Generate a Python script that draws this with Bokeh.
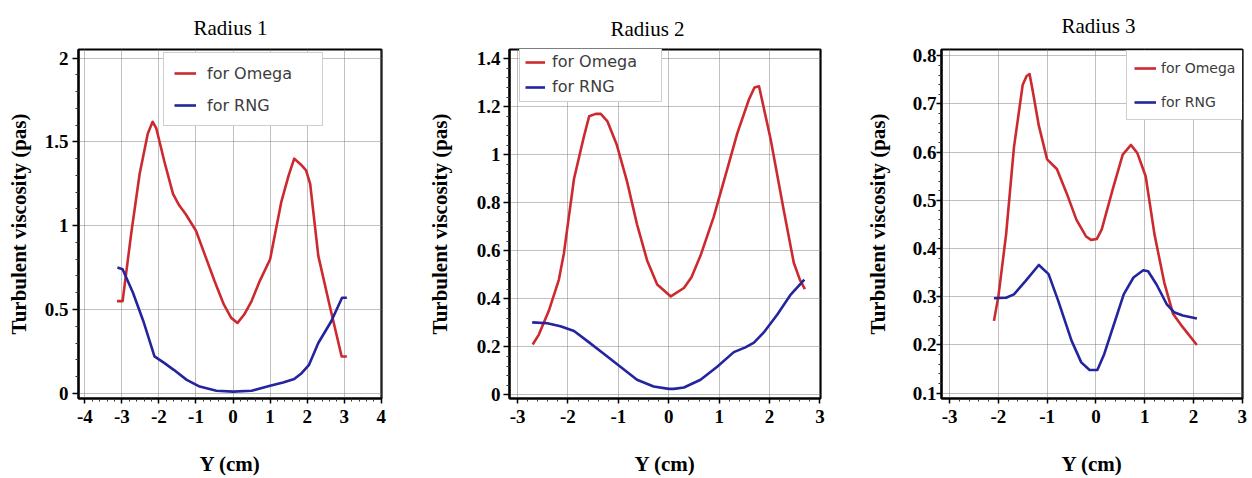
import numpy as np
from bokeh.plotting import figure
from bokeh.layouts import row
from bokeh.models import FixedTicker, Range1d, Legend, LegendItem
from bokeh.embed import file_html
from bokeh.resources import INLINE

# ---------------- data ----------------
titles = ["Radius 1", "Radius 2", "Radius 3"]
x_axis_label = "Y (cm)"
y_axis_label = "Turbulent viscosity (pas)"
series_names = ["for Omega", "for RNG"]

# Radius 1
r1_omega_x = [-3.13, -2.98, -2.75, -2.52, -2.3, -2.17, -2.07, -1.85, -1.62, -1.45, -1.28, -1.0, -0.75, -0.5, -0.25,
              -0.05, 0.12, 0.3, 0.5, 0.7, 1.0, 1.3, 1.5, 1.65, 1.85, 1.97, 2.08, 2.3, 2.6, 2.93, 3.07]
r1_omega_y = [0.55, 0.55, 0.95, 1.31, 1.55, 1.62, 1.58, 1.38, 1.19, 1.12, 1.07, 0.97, 0.82, 0.67, 0.53,
              0.45, 0.42, 0.47, 0.55, 0.66, 0.80, 1.14, 1.30, 1.40, 1.36, 1.33, 1.25, 0.82, 0.53, 0.22, 0.22]
r1_rng_x = [-3.12, -2.98, -2.7, -2.42, -2.12, -1.85, -1.6, -1.25, -0.9, -0.45, 0.0, 0.5, 1.0, 1.35, 1.65,
            1.85, 2.05, 2.3, 2.65, 2.94, 3.07]
r1_rng_y = [0.75, 0.74, 0.60, 0.43, 0.22, 0.18, 0.14, 0.08, 0.04, 0.015, 0.01, 0.015, 0.045, 0.065, 0.085,
            0.12, 0.17, 0.30, 0.43, 0.57, 0.57]
r1_x_ticks = [-4, -3, -2, -1, 0, 1, 2, 3, 4]
r1_x_labels = ["-4", "-3", "-2", "-1", "0", "1", "2", "3", "4"]
r1_y_ticks = [0, 0.5, 1, 1.5, 2]
r1_y_labels = ["0", "0.5", "1", "1.5", "2"]

# Radius 2
r2_omega_x = [-2.70, -2.58, -2.38, -2.18, -2.08, -1.88, -1.69, -1.58, -1.45, -1.35, -1.22, -1.03, -0.83, -0.63,
              -0.43, -0.23, 0.04, 0.3, 0.45, 0.63, 0.89, 1.16, 1.36, 1.59, 1.7, 1.79, 2.02, 2.28, 2.48, 2.6, 2.70]
r2_omega_y = [0.21, 0.25, 0.35, 0.48, 0.59, 0.90, 1.07, 1.16, 1.17, 1.17, 1.14, 1.04, 0.89, 0.71,
              0.56, 0.46, 0.41, 0.445, 0.49, 0.58, 0.74, 0.94, 1.09, 1.23, 1.28, 1.285, 1.065, 0.77, 0.55, 0.48, 0.44]
r2_rng_x = [-2.71, -2.41, -2.15, -1.88, -1.62, -1.29, -0.96, -0.63, -0.3, 0.0, 0.1, 0.3, 0.63, 0.96, 1.29,
            1.52, 1.69, 1.88, 2.15, 2.41, 2.69]
r2_rng_y = [0.302, 0.298, 0.286, 0.266, 0.225, 0.171, 0.117, 0.063, 0.035, 0.025, 0.025, 0.031, 0.063, 0.117,
            0.178, 0.198, 0.218, 0.259, 0.334, 0.415, 0.48]
r2_x_ticks = [-3, -2, -1, 0, 1, 2, 3]
r2_x_labels = ["-3", "-2", "-1", "0", "1", "2", "3"]
r2_y_ticks = [0, 0.2, 0.4, 0.6, 0.8, 1, 1.2, 1.4]
r2_y_labels = ["0", "0.2", "0.4", "0.6", "0.8", "1", "1.2", "1.4"]

# Radius 3
r3_omega_x = [-2.09, -2.0, -1.84, -1.68, -1.5, -1.42, -1.36, -1.3, -1.17, -1.0, -0.8, -0.6, -0.4, -0.2, -0.1,
              0.02, 0.12, 0.35, 0.55, 0.72, 0.85, 1.02, 1.2, 1.4, 1.58, 1.78, 2.07]
r3_omega_y = [0.25, 0.30, 0.43, 0.61, 0.74, 0.758, 0.762, 0.73, 0.655, 0.585, 0.565, 0.515, 0.46, 0.425, 0.418,
              0.42, 0.44, 0.525, 0.595, 0.615, 0.598, 0.55, 0.43, 0.33, 0.265, 0.237, 0.20]
r3_rng_x = [-2.09, -1.84, -1.68, -1.44, -1.17, -0.97, -0.77, -0.5, -0.3, -0.13, 0.03, 0.17, 0.37, 0.57, 0.77,
            0.97, 1.07, 1.24, 1.45, 1.6, 1.78, 2.07]
r3_rng_y = [0.297, 0.298, 0.305, 0.333, 0.366, 0.347, 0.291, 0.209, 0.164, 0.148, 0.148, 0.181, 0.243, 0.305,
            0.34, 0.355, 0.353, 0.326, 0.285, 0.268, 0.261, 0.255]
r3_x_ticks = [-3, -2, -1, 0, 1, 2, 3]
r3_x_labels = ["-3", "-2", "-1", "0", "1", "2", "3"]
r3_y_ticks = [0.1, 0.2, 0.3, 0.4, 0.5, 0.6, 0.7, 0.8]
r3_y_labels = ["0.1", "0.2", "0.3", "0.4", "0.5", "0.6", "0.7", "0.8"]

# ---------------- styling / layout ----------------
RED = "#cc2a2e"
BLUE = "#24249e"
SERIF = "Liberation Serif"
HEIGHT = 478

panels = [
    dict(title=titles[0], ox=r1_omega_x, oy=r1_omega_y, rx=r1_rng_x, ry=r1_rng_y,
         xt=r1_x_ticks, xl=r1_x_labels, yt=r1_y_ticks, yl=r1_y_labels,
         xr=(-4.17, 4.005), yr=(-0.031, 2.051),
         width=420, left=78, right=39, top=45, bottom=80,
         title_off=115, title_standoff=20,
         ytick_out=6, ylab_standoff=4, yaxis_standoff=11,
         leg_loc=(85, 272), leg_pad=10, leg_lh=20, leg_sp=12, leg_gw=22, leg_ls=11, leg_lw=105, leg_fs="16px"),
    dict(title=titles[1], ox=r2_omega_x, oy=r2_omega_y, rx=r2_rng_x, ry=r2_rng_y,
         xt=r2_x_ticks, xl=r2_x_labels, yt=r2_y_ticks, yl=r2_y_labels,
         xr=(-3.16, 3.01), yr=(-0.015, 1.438),
         width=420, left=89, right=20, top=42, bottom=79,
         title_off=101, title_standoff=17,
         ytick_out=6, ylab_standoff=3, yaxis_standoff=22,
         leg_loc=(10, 296), leg_pad=5, leg_lh=18, leg_sp=6, leg_gw=20, leg_ls=7, leg_lw=104, leg_fs="16px"),
    dict(title=titles[2], ox=r3_omega_x, oy=r3_omega_y, rx=r3_rng_x, ry=r3_rng_y,
         xt=r3_x_ticks, xl=r3_x_labels, yt=r3_y_ticks, yl=r3_y_labels,
         xr=(-3.165, 3.005), yr=(0.089, 0.813),
         width=412, left=101, right=10, top=48, bottom=80,
         title_off=120, title_standoff=23,
         ytick_out=5, ylab_standoff=0, yaxis_standoff=20,
         leg_loc=(185, 278), leg_pad=7, leg_lh=20, leg_sp=14, leg_gw=22, leg_ls=5, leg_lw=76, leg_fs="14px"),
]


def minor_from(ticks, n=5):
    out = []
    for a, b in zip(ticks[:-1], ticks[1:]):
        step = (b - a) / n
        out += [a + k * step for k in range(1, n)]
    return out


figs = []
for cfg in panels:
    p = figure(width=cfg["width"], height=HEIGHT, output_backend="svg", toolbar_location=None,
               x_range=Range1d(*cfg["xr"]), y_range=Range1d(*cfg["yr"]),
               min_border_left=cfg["left"], min_border_right=cfg["right"],
               min_border_top=cfg["top"], min_border_bottom=cfg["bottom"],
               x_axis_label=x_axis_label, y_axis_label=y_axis_label)
    p.background_fill_color = "white"
    p.border_fill_color = "white"
    p.outline_line_color = "black"
    p.outline_line_width = 2.2

    p.title.text = cfg["title"]
    p.title.text_font = SERIF
    p.title.text_font_style = "normal"
    p.title.text_font_size = "21px"
    p.title.text_color = "black"
    p.title.align = "left"
    p.title.offset = cfg["title_off"]
    p.title.standoff = cfg["title_standoff"]

    xt = FixedTicker(ticks=cfg["xt"], minor_ticks=minor_from(cfg["xt"]))
    yt = FixedTicker(ticks=cfg["yt"], minor_ticks=minor_from(cfg["yt"]))
    p.xaxis.ticker = xt
    p.yaxis.ticker = yt
    p.xgrid.ticker = xt
    p.ygrid.ticker = yt
    p.xaxis.major_label_overrides = {t: s for t, s in zip(cfg["xt"], cfg["xl"])}
    p.yaxis.major_label_overrides = {t: s for t, s in zip(cfg["yt"], cfg["yl"])}

    for ax in (p.xaxis[0], p.yaxis[0]):
        ax.axis_line_color = "black"
        ax.axis_line_width = 2
        ax.major_tick_line_color = "black"
        ax.major_tick_line_width = 1.5
        ax.minor_tick_line_color = "#333333"
        ax.minor_tick_line_width = 1
        ax.major_tick_in = 0
        ax.minor_tick_in = 0
        ax.minor_tick_out = 3
        ax.major_label_text_font = SERIF
        ax.major_label_text_font_style = "bold"
        ax.major_label_text_font_size = "19px"
        ax.major_label_text_color = "black"
        ax.axis_label_text_font = SERIF
        ax.axis_label_text_font_style = "bold"
        ax.axis_label_text_font_size = "21px"
        ax.axis_label_text_color = "black"

    p.xaxis.major_tick_out = 5
    p.xaxis.major_label_standoff = 6
    p.xaxis.axis_label_standoff = 26
    p.yaxis.major_tick_out = cfg["ytick_out"]
    p.yaxis.major_label_standoff = cfg["ylab_standoff"]
    p.yaxis.axis_label_standoff = cfg["yaxis_standoff"]

    for g in (p.xgrid[0], p.ygrid[0]):
        g.grid_line_color = "#808080"
        g.grid_line_dash = "1 1"
        g.grid_line_width = 1

    r_om = p.line(cfg["ox"], cfg["oy"], line_color=RED, line_width=2.6, line_join="round")
    r_rn = p.line(cfg["rx"], cfg["ry"], line_color=BLUE, line_width=2.6, line_join="round")

    leg = Legend(items=[LegendItem(label=series_names[0], renderers=[r_om]),
                        LegendItem(label=series_names[1], renderers=[r_rn])],
                 location=cfg["leg_loc"])
    leg.margin = 0
    leg.padding = cfg["leg_pad"]
    leg.label_height = cfg["leg_lh"]
    leg.glyph_height = cfg["leg_lh"]
    leg.spacing = cfg["leg_sp"]
    leg.glyph_width = cfg["leg_gw"]
    leg.label_standoff = cfg["leg_ls"]
    leg.label_width = cfg["leg_lw"]
    leg.label_text_font = "DejaVu Sans"
    leg.label_text_font_size = cfg["leg_fs"]
    leg.label_text_color = "#3c3c3c"
    leg.border_line_color = "#a0a0a0"
    leg.border_line_width = 1.5
    leg.background_fill_color = "white"
    leg.background_fill_alpha = 1.0
    p.add_layout(leg)
    figs.append(p)

layout = row(*figs)
open("out.html", "w").write(file_html(layout, INLINE))
